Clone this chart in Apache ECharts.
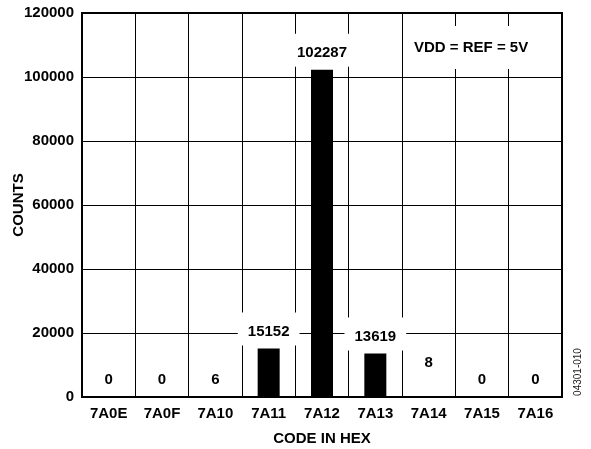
<!DOCTYPE html>
<html>
<head>
<meta charset="utf-8">
<script src="https://cdn.jsdelivr.net/npm/echarts@6/dist/echarts.min.js"></script>
<style>
html,body{margin:0;padding:0;background:#fff;}
#c{width:591px;height:449px;}
</style>
</head>
<body>
<div id="c"></div>
<script>
const categories = ['7A0E','7A0F','7A10','7A11','7A12','7A13','7A14','7A15','7A16'];
const counts = [0, 0, 6, 15152, 102287, 13619, 8, 0, 0];
const yTicks = { min: 0, max: 120000, interval: 20000 };
const noteText = 'VDD = REF = 5V';
const figId = '04301-010';

const FONT = '"Liberation Sans", Arial, Helvetica, sans-serif';
const chart = echarts.init(document.getElementById('c'));

const barData = counts.map((v, i) => {
  const item = { value: v };
  if (categories[i] === '7A14') item.label = { offset: [0, -17] };
  return item;
});

chart.setOption({
  animation: false,
  backgroundColor: '#fff',
  grid: {
    left: 82, right: 29, top: 13, bottom: 52,
    containLabel: false,
    outerBoundsMode: 'none',
    show: true, borderColor: '#000', borderWidth: 2, backgroundColor: 'transparent'
  },
  title: {
    text: noteText,
    left: 405, top: 26,
    padding: [14, 9],
    backgroundColor: '#fff',
    textStyle: { fontFamily: FONT, fontWeight: 'bold', fontSize: 15, color: '#000' }
  },
  xAxis: {
    type: 'category',
    data: categories,
    name: 'CODE IN HEX',
    nameLocation: 'middle',
    nameGap: 34,
    nameTextStyle: { fontFamily: FONT, fontWeight: 'bold', fontSize: 15, color: '#000' },
    axisLine: { show: true, lineStyle: { color: '#000', width: 2 } },
    axisTick: { show: false },
    axisLabel: { fontFamily: FONT, fontWeight: 'bold', fontSize: 15, color: '#000', margin: 9, interval: 0 },
    splitLine: { show: true, interval: 0, lineStyle: { color: '#000', width: 1 } }
  },
  yAxis: {
    type: 'value',
    min: yTicks.min, max: yTicks.max, interval: yTicks.interval,
    name: 'COUNTS',
    nameLocation: 'middle',
    nameGap: 56,
    nameMoveOverlap: false,
    nameTextStyle: { fontFamily: FONT, fontWeight: 'bold', fontSize: 15, color: '#000' },
    axisLine: { show: true, lineStyle: { color: '#000', width: 2 } },
    axisTick: { show: false },
    axisLabel: { fontFamily: FONT, fontWeight: 'bold', fontSize: 15, color: '#000', margin: 8,
      formatter: v => String(v) },
    splitLine: { show: true, lineStyle: { color: '#000', width: 1 } }
  },
  series: [{
    type: 'bar',
    data: barData,
    barWidth: 22,
    itemStyle: { color: '#000' },
    label: {
      show: true,
      position: 'top',
      distance: 3,
      padding: [11, 10, 6, 10],
      lineHeight: 16,
      backgroundColor: '#fff',
      fontFamily: FONT, fontWeight: 'bold', fontSize: 15, color: '#000'
    }
  }],
  graphic: [{
    type: 'text',
    x: 578, y: 372,
    rotation: Math.PI / 2,
    style: {
      text: figId,
      fontFamily: FONT, fontSize: 10, fill: '#222',
      align: 'center', verticalAlign: 'middle'
    }
  }]
});
</script>
</body>
</html>
